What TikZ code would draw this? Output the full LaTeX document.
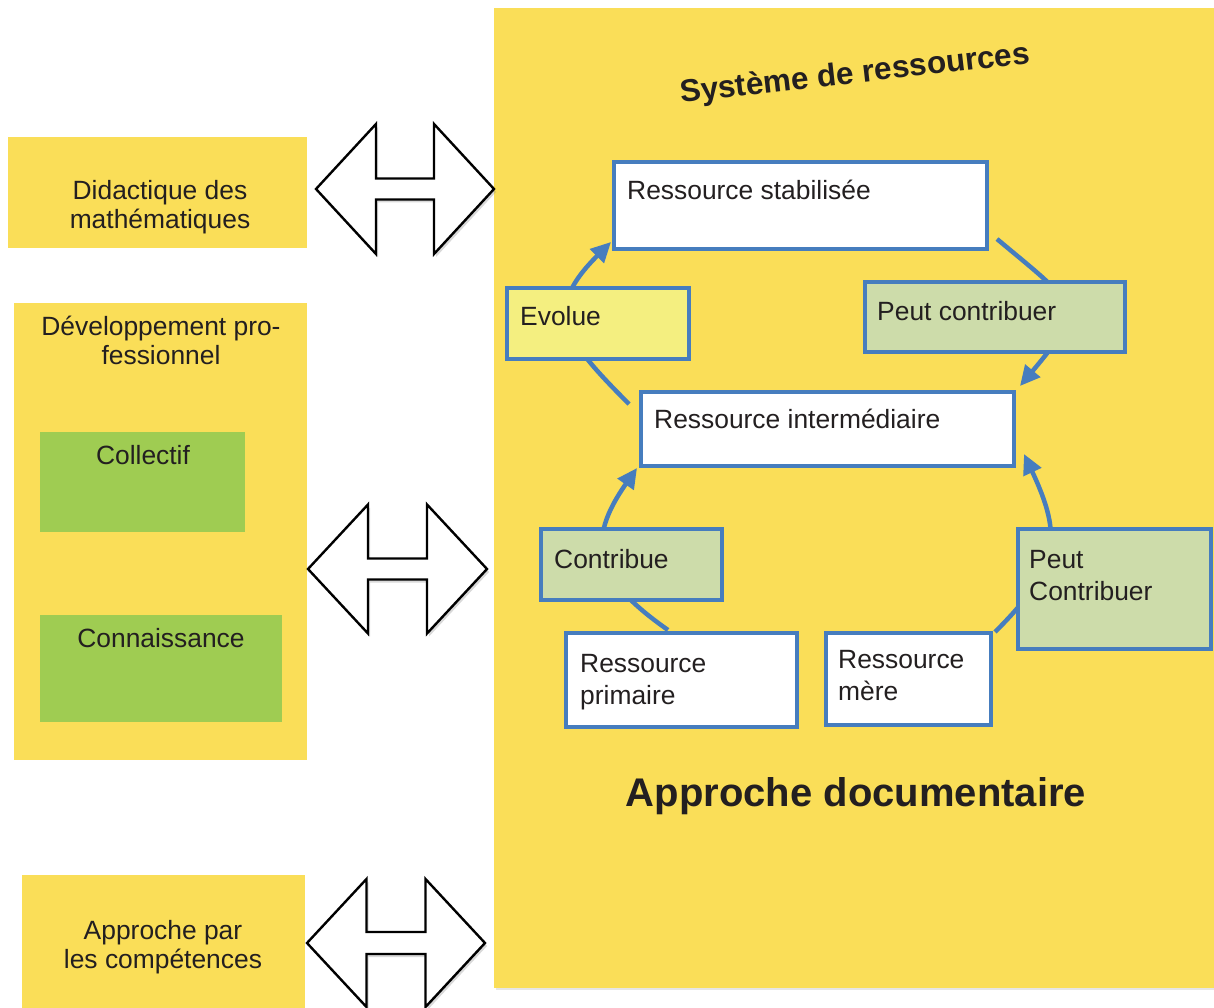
\documentclass[tikz,border=0pt]{standalone}
\usepackage{fontspec}
\setmainfont{Liberation Sans}
\usetikzlibrary{arrows.meta,calc,shadows,fit}
\definecolor{panelyellow}{RGB}{250,222,88}
\definecolor{boxblue}{RGB}{70,125,190}
\definecolor{evolfill}{RGB}{244,239,128}
\definecolor{sagefill}{RGB}{205,220,170}
\definecolor{leafgreen}{RGB}{159,204,82}
\definecolor{inkdark}{RGB}{35,31,32}
\pgfdeclarelayer{bglayer}
\pgfdeclarelayer{connlayer}
\pgfsetlayers{bglayer,connlayer,main}
\begin{document}
\begin{tikzpicture}[x=1pt,y=1pt,
  area/.style={inner sep=0pt, outer sep=0pt},
  yellowbox/.style={area, fill=panelyellow, draw=none},
  greenbox/.style={area, fill=leafgreen, draw=none},
  bluebox/.style={area, draw=boxblue, line width=4.5pt,
    drop shadow={shadow xshift=2pt, shadow yshift=-2pt, opacity=0.25}},
  txt/.style={inner sep=0pt, text=inkdark, font=\fontsize{26.4}{32}\selectfont, align=left},
  ltxt/.style={inner sep=0pt, text=inkdark, font=\fontsize{26.4}{29}\selectfont, align=center},
  flow/.style={draw=boxblue, line width=4.5pt, -{Triangle[length=20pt,width=19pt]}},
  dblarrow/.style={draw=black, line width=2.4pt, fill=white, line join=miter,
    drop shadow={shadow xshift=2pt, shadow yshift=-3pt, opacity=0.3}}
]
\useasboundingbox (0,0) rectangle (1214,-1008);

% main panel
\begin{pgfonlayer}{bglayer}
  \node[yellowbox, drop shadow={shadow xshift=2pt, shadow yshift=-2pt, opacity=0.2},
        fit={(494,-8)(1214,-988)}] (panel) {};
\end{pgfonlayer}

% left panels (base anchor of a two-line text = baseline of its last line)
\node[yellowbox, fit={(8,-137)(307,-248)}] (did) {};
\node[ltxt, anchor=base] (didT) at (160,-229) {Didactique des\\math\'ematiques};

\node[yellowbox, fit={(14,-303)(307,-760)}] (dev) {};
\node[ltxt, anchor=base] (devT) at (161,-364) {D\'eveloppement pro-\\fessionnel};
\node[greenbox, fit={(40,-432)(245,-532)}] (coll) {};
\node[ltxt, anchor=base] (collT) at (143,-464) {Collectif};
\node[greenbox, fit={(40,-615)(282,-722)}] (conn) {};
\node[ltxt, anchor=base] (connT) at (161,-647) {Connaissance};

\node[yellowbox, fit={(22,-875)(305,-1008)}] (apc) {};
\node[ltxt, anchor=base] (apcT) at (163,-968) {Approche par\\les comp\'etences};

% double arrows
\draw[dblarrow, shift={(405,-189)}] (-89,0) -- (-29,65) -- (-29,10.5) -- (29,10.5) -- (29,65)
  -- (89,0) -- (29,-65) -- (29,-10.5) -- (-29,-10.5) -- (-29,-65) -- cycle;
\draw[dblarrow, shift={(397.5,-569)}] (-89.5,0) -- (-29.5,64.5) -- (-29.5,10.5) -- (29.5,10.5) -- (29.5,64.5)
  -- (89.5,0) -- (29.5,-64.5) -- (29.5,-10.5) -- (-29.5,-10.5) -- (-29.5,-64.5) -- cycle;
\draw[dblarrow, shift={(396,-943)}] (-89,0) -- (-29.5,64) -- (-29.5,11) -- (29.5,11) -- (29.5,64)
  -- (89,0) -- (29.5,-64) -- (29.5,-11) -- (-29.5,-11) -- (-29.5,-64) -- cycle;

% titles
\node[inner sep=0pt, text=inkdark, font=\fontsize{31.5}{36}\selectfont\bfseries, rotate=6.5, anchor=base]
  (sysT) at (856,-83) {Syst\`eme de ressources};
\node[inner sep=0pt, text=inkdark, font=\fontsize{40}{46}\selectfont\bfseries, anchor=base]
  (appT) at (856,-806) {Approche documentaire};

% resource boxes
\node[bluebox, fill=white, fit={(614,-162)(987,-249)}] (stab) {};
\node[txt, anchor=base west] (stabT) at (627,-200) {Ressource stabilis\'ee};

\node[bluebox, fill=evolfill, fit={(507,-288)(689,-359)}] (evol) {};
\node[txt, anchor=base west] (evolT) at (520,-325) {Evolue};

\node[bluebox, fill=sagefill, fit={(865,-282)(1125,-352)}] (pcA) {};
\node[txt, anchor=base west] (pcAT) at (877,-320) {Peut contribuer};

\node[bluebox, fill=white, fit={(641,-392)(1014,-466)}] (inter) {};
\node[txt, anchor=base west] (interT) at (654,-428) {Ressource interm\'ediaire};

\node[bluebox, fill=sagefill, fit={(541,-529)(722,-600)}] (contr) {};
\node[txt, anchor=base west] (contrT) at (554,-568) {Contribue};

\node[bluebox, fill=sagefill, fit={(1018,-529)(1211,-649)}] (pcB) {};
\node[txt, anchor=base west] (pcBT) at (1029,-600) {Peut\\Contribuer};

\node[bluebox, fill=white, fit={(566,-633)(797,-727)}] (prim) {};
\node[txt, anchor=base west] (primT) at (580,-704) {Ressource\\primaire};

\node[bluebox, fill=white, fit={(826,-633)(991,-725)}] (mere) {};
\node[txt, anchor=base west] (mereT) at (838,-700) {Ressource\\m\`ere};

% connectors (behind the boxes)
\begin{pgfonlayer}{connlayer}
  \draw[flow] ($(inter.north west)+(-12,-12)$) to[out=135, in=225, looseness=1.5]
    ($(stab.south west)+(-3,7)$);
  \draw[flow] ($(stab.south east)+(10,10)$) to[out=-40, in=50, looseness=1.8]
    ($(inter.north east)+(6,6)$);
  \draw[flow] ($(prim.north west)+(102,3)$) to[out=145, in=235, looseness=1.4]
    ($(inter.south west)+(-4,-2)$);
  \draw[flow] ($(mere.north east)+(4,1)$) to[out=45, in=-65, looseness=1.3]
    ($(inter.south east)+(10,12)$);
\end{pgfonlayer}
\end{tikzpicture}
\end{document}
